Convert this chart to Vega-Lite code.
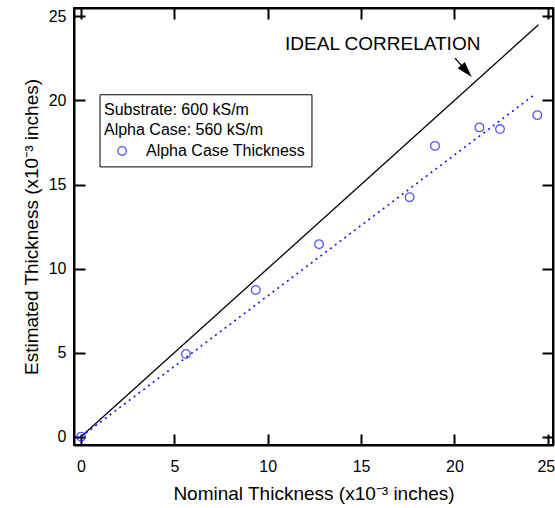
{
  "$schema": "https://vega.github.io/schema/vega-lite/v6.json",
  "width": 479,
  "height": 437,
  "autosize": {"type": "none"},
  "padding": {"left": 74, "top": 8, "right": 2, "bottom": 63},
  "background": "white",
  "config": {
    "view": {"stroke": "black", "strokeWidth": 2},
    "font": "Liberation Sans",
    "axis": {
      "labelFont": "Liberation Sans",
      "labelFontSize": 16,
      "labelColor": "black",
      "titleFont": "Liberation Sans",
      "titleFontSize": 19,
      "titleFontWeight": "normal",
      "titleColor": "black",
      "domainColor": "black",
      "domainWidth": 2,
      "tickColor": "black",
      "tickWidth": 2,
      "tickSize": -11,
      "grid": false
    }
  },
  "datasets": {
    "points": [
      {"nominal": 0, "estimated": 0},
      {"nominal": 5.62, "estimated": 4.92},
      {"nominal": 9.36, "estimated": 8.73},
      {"nominal": 12.75, "estimated": 11.45},
      {"nominal": 17.6, "estimated": 14.25},
      {"nominal": 18.96, "estimated": 17.3},
      {"nominal": 21.34, "estimated": 18.4},
      {"nominal": 22.44, "estimated": 18.3},
      {"nominal": 24.44, "estimated": 19.13}
    ],
    "ideal": [
      {"nominal": 0, "estimated": 0},
      {"nominal": 24.5, "estimated": 24.5}
    ],
    "fit": [
      {"nominal": 0, "estimated": 0},
      {"nominal": 24.35, "estimated": 20.4}
    ],
    "legendbox": [
      {"x1": 1.02, "x2": 12.37, "y1": 20.34, "y2": 16.05}
    ],
    "legendtext": [
      {"x": 1.23, "y": 19.45, "label": "Substrate: 600 kS/m"},
      {"x": 1.23, "y": 18.25, "label": "Alpha Case: 560 kS/m"},
      {"x": 3.48, "y": 17.0, "label": "Alpha Case Thickness"}
    ],
    "legendsym": [
      {"x": 2.2, "y": 17.0}
    ],
    "annot": [
      {"x": 10.93, "y": 23.37, "label": "IDEAL CORRELATION"}
    ],
    "arrow": [
      {"x1": 20.03, "y1": 22.52, "x2": 20.55, "y2": 21.86}
    ],
    "arrowhead": [
      {"x": 20.59, "y": 21.82}
    ]
  },
  "layer": [
    {
      "data": {"name": "ideal"},
      "mark": {"type": "line", "color": "black", "strokeWidth": 1.3},
      "encoding": {
        "x": {"field": "nominal", "type": "quantitative",
          "scale": {"domain": [-0.375, 25.28], "nice": false, "zero": false},
          "axis": {"orient": "bottom", "values": [0, 5, 10, 15, 20, 25], "title": "Nominal Thickness (x10⁻³ inches)", "labelPadding": 24, "titlePadding": 10, "labelFlush": 6.5, "labelFlushOffset": 7}},
        "y": {"field": "estimated", "type": "quantitative",
          "scale": {"domain": [-0.49, 25.5], "nice": false, "zero": false},
          "axis": {"orient": "left", "values": [0, 5, 10, 15, 20, 25], "title": "Estimated Thickness (x10⁻³ inches)", "labelPadding": 19, "titlePadding": 7}}
      }
    },
    {
      "data": {"name": "fit"},
      "mark": {"type": "line", "color": "#1010ff", "strokeWidth": 1.6, "strokeDash": [2, 4]},
      "encoding": {
        "x": {"field": "nominal", "type": "quantitative",
          "axis": {"orient": "top", "values": [0, 5, 10, 15, 20, 25], "labels": false, "title": null}},
        "y": {"field": "estimated", "type": "quantitative",
          "axis": {"orient": "right", "values": [0, 5, 10, 15, 20, 25], "labels": false, "title": null}}
      }
    },
    {
      "data": {"name": "points"},
      "mark": {"type": "point", "shape": "circle", "filled": false, "color": "#1010ff", "size": 75, "strokeWidth": 1.3},
      "encoding": {
        "x": {"field": "nominal", "type": "quantitative", "axis": null},
        "y": {"field": "estimated", "type": "quantitative", "axis": null}
      }
    },
    {
      "data": {"name": "legendbox"},
      "mark": {"type": "rect", "fill": "white", "stroke": "black", "strokeWidth": 1},
      "encoding": {
        "x": {"field": "x1", "type": "quantitative", "axis": null},
        "x2": {"field": "x2"},
        "y": {"field": "y1", "type": "quantitative", "axis": null},
        "y2": {"field": "y2"}
      }
    },
    {
      "data": {"name": "legendtext"},
      "mark": {"type": "text", "align": "left", "baseline": "middle", "fontSize": 16, "font": "Liberation Sans", "color": "black"},
      "encoding": {
        "x": {"field": "x", "type": "quantitative", "axis": null},
        "y": {"field": "y", "type": "quantitative", "axis": null},
        "text": {"field": "label"}
      }
    },
    {
      "data": {"name": "legendsym"},
      "mark": {"type": "point", "shape": "circle", "filled": false, "color": "#1010ff", "size": 75, "strokeWidth": 1.3},
      "encoding": {
        "x": {"field": "x", "type": "quantitative", "axis": null},
        "y": {"field": "y", "type": "quantitative", "axis": null}
      }
    },
    {
      "data": {"name": "annot"},
      "mark": {"type": "text", "align": "left", "baseline": "middle", "fontSize": 19, "font": "Liberation Sans", "color": "black"},
      "encoding": {
        "x": {"field": "x", "type": "quantitative", "axis": null},
        "y": {"field": "y", "type": "quantitative", "axis": null},
        "text": {"field": "label"}
      }
    },
    {
      "data": {"name": "arrow"},
      "mark": {"type": "rule", "color": "black", "strokeWidth": 1.3},
      "encoding": {
        "x": {"field": "x1", "type": "quantitative", "axis": null},
        "x2": {"field": "x2"},
        "y": {"field": "y1", "type": "quantitative", "axis": null},
        "y2": {"field": "y2"}
      }
    },
    {
      "data": {"name": "arrowhead"},
      "mark": {"type": "point", "shape": "M-0.45,0.6L0,-0.9L0.45,0.6Z", "filled": true, "color": "black", "size": 450, "angle": 139, "opacity": 1},
      "encoding": {
        "x": {"field": "x", "type": "quantitative", "axis": null},
        "y": {"field": "y", "type": "quantitative", "axis": null}
      }
    }
  ],
  "resolve": {"axis": {"x": "independent", "y": "independent"}}
}
